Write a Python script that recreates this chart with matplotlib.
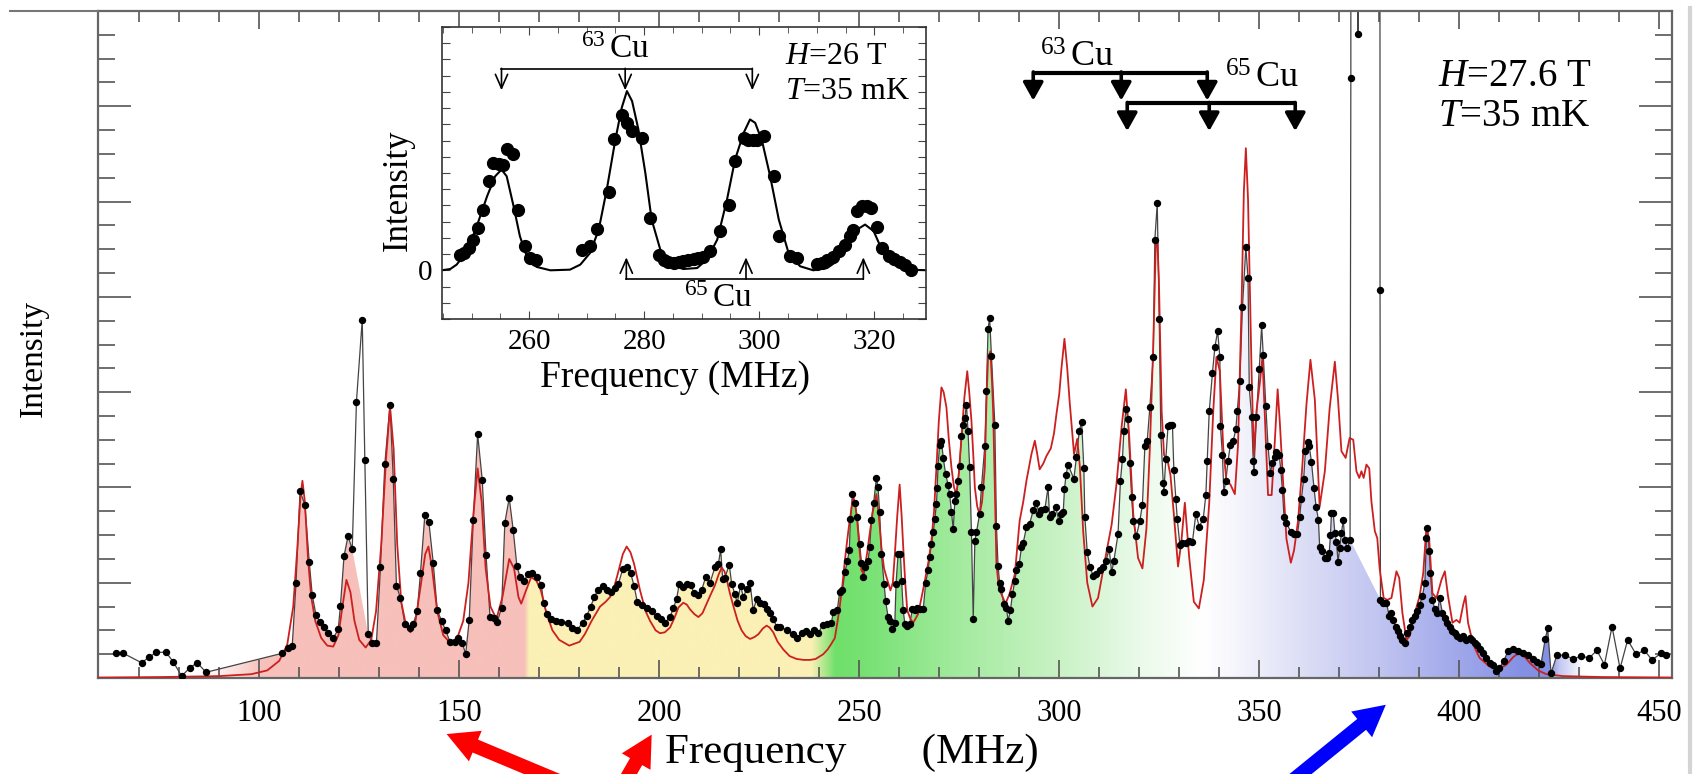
import numpy as np
import matplotlib.pyplot as plt
from matplotlib.patches import Polygon, FancyArrowPatch
from matplotlib.lines import Line2D
from matplotlib.colors import to_rgb

plt.rcParams['font.family'] = ['Liberation Serif', 'DejaVu Serif']
plt.rcParams['mathtext.fontset'] = 'custom'
plt.rcParams['mathtext.rm'] = 'Liberation Serif'
plt.rcParams['mathtext.it'] = 'Liberation Serif:italic'

# measured NMR spectrum, H=27.6 T (frequency MHz, intensity)
spectrum = [
    (64.3, .26), (66.0, .26), (70.6, .16), (72.5, .22), (74.3, .27), (76.7, .27), (78.5, .17),
    (80.6, .02), (82.7, .11), (84.5, .16), (86.7, .06),
    (105.8, .26), (107.25, .31), (108.25, .34), (109.2, 1.0), (110.2, 1.96), (111.4, 1.82),
    (112.5, 1.22), (113.25, .87), (114.2, .66), (115.2, .59), (116.25, .54), (117.25, .47),
    (118.5, .42), (119.75, .51), (120.3, .76), (121.2, 1.28), (122.2, 1.49), (123.25, 1.35),
    (124.3, 2.90), (125.75, 3.76), (126.4, 2.29), (127.25, .46), (128.25, .37), (129.3, .37),
    (130.3, 1.16), (131.4, 2.25), (132.7, 2.87), (133.5, 2.09), (134.3, .97), (135.3, .84),
    (136.4, .57), (137.7, .52), (138.5, .57), (139.5, .70), (140.3, 1.10), (141.4, 1.71),
    (142.4, 1.64), (143.5, 1.21), (144.5, .71), (145.6, .60), (146.6, .50), (147.7, .38),
    (148.9, .38), (149.75, .42), (150.75, .37), (151.6, .25), (152.5, .61), (153.5, 1.66),
    (154.6, 2.56), (155.75, 2.08), (156.7, 1.29), (157.7, .64), (158.7, .63), (159.5, .59),
    (160.6, .74), (161.4, 1.63), (162.5, 1.89), (163.5, 1.55), (164.4, 1.18), (165.2, 1.06),
    (166.2, 1.02), (167.2, 1.09), (168.3, 1.10), (169.5, 1.06), (170.5, .98), (171.1, .79),
    (171.9, .67), (172.9, .62), (174.2, .60), (175.4, .59), (177.1, .58), (178.3, .53),
    (179.4, .50), (180.85, .58), (181.85, .65), (182.85, .75), (183.8, .85), (184.6, .92),
    (185.85, .97), (186.85, .92), (187.9, .90), (188.9, .94), (189.8, .99), (190.85, 1.14),
    (191.85, 1.17), (192.85, 1.10), (193.7, .97), (194.5, .80), (195.6, .77), (196.85, .73),
    (198.1, .70), (199.35, .65), (200.35, .62), (201.4, .58), (202.7, .64), (203.5, .73),
    (204.35, .83), (205.0, .99), (206.0, .95), (206.85, .99), (207.85, .98), (208.7, .89),
    (209.8, .87), (210.6, .92), (211.6, 1.06), (212.7, 1.00), (213.9, 1.16), (214.8, 1.20),
    (215.35, 1.35), (215.85, 1.04), (216.4, 1.05), (217.5, 1.19), (218.1, .99), (218.9, .88),
    (219.5, .79), (220.35, .97), (221.0, .85), (221.85, .93), (222.7, 1.00), (223.5, .71),
    (224.35, .83), (225.2, .79), (226.2, .78), (226.85, .72), (227.7, .68), (228.5, .62),
    (229.35, .54), (230.2, .54), (231.85, .50), (233.5, .46), (234.5, .42), (235.6, .47),
    (236.7, .49), (237.7, .46), (238.7, .50), (239.8, .47), (240.85, .56), (241.85, .57),
    (243.05, .58), (243.5, .69), (244.5, .71), (245.1, .90), (245.8, .92), (246.4, 1.11),
    (247.05, 1.23), (247.5, 1.34), (247.8, 1.67), (248.3, 1.93), (248.9, 1.84), (249.5, 1.69),
    (250.1, 1.41), (250.55, 1.21), (251.0, 1.06), (251.55, 1.16), (252.2, 1.23), (252.6, 1.37),
    (253.05, 1.66), (253.6, 1.84), (254.3, 2.10), (254.7, 2.00), (255.1, 1.74), (255.55, 1.30),
    (256.2, .99), (256.6, .81), (257.2, .64), (257.6, .60), (258.3, .51), (258.9, .58),
    (259.2, .99), (259.7, 1.30), (260.3, 1.30), (260.6, 1.02), (261.0, .71), (261.4, .57),
    (262.0, .55), (262.6, .57), (263.3, .72), (263.9, .71), (264.5, .74), (265.1, .72),
    (266.0, .72), (266.6, 1.00), (267.2, 1.13), (267.6, 1.27), (268.05, 1.41), (268.5, 1.53),
    (268.9, 1.67), (269.3, 1.83), (269.5, 1.99), (269.7, 2.23), (270.1, 2.45), (270.55, 2.49),
    (271.0, 2.31), (271.6, 2.14), (272.2, 2.03), (272.6, 1.93), (273.05, 1.74), (273.5, 1.56),
    (273.9, 1.86), (274.3, 1.93), (274.7, 2.07), (275.1, 2.23), (275.55, 2.54), (276.0, 2.66),
    (276.4, 2.73), (276.8, 2.87), (277.2, 2.59), (277.6, 2.21), (278.05, 1.53), (278.5, .62),
    (278.9, 1.44), (279.3, 1.53), (280.1, 1.72), (280.55, 2.00), (281.4, 2.44), (281.8, 3.01),
    (282.2, 3.66), (282.6, 3.78), (283.05, 3.38), (283.9, 2.66), (284.3, 1.60), (284.7, 1.18),
    (285.1, 1.00), (285.55, .93), (286.1, .78), (286.8, .74), (287.2, .60), (287.8, .71),
    (288.3, .88), (288.9, 1.02), (289.3, 1.13), (290.0, 1.20), (290.55, 1.37), (291.0, 1.42),
    (291.8, 1.58), (292.6, 1.62), (293.5, 1.76), (294.3, 1.84), (295.0, 1.72), (295.55, 1.76),
    (296.4, 1.77), (297.2, 2.00), (297.6, 1.69), (298.3, 1.72), (299.1, 1.80), (299.9, 1.65),
    (300.4, 1.72), (301.0, 1.74), (301.3, 1.98), (301.7, 2.13), (302.2, 2.24), (303.65, 2.09),
    (304.3, 2.32), (305.0, 2.59), (305.6, 2.69), (306.15, 2.20), (306.4, 1.69), (307.0, 1.32),
    (307.65, 1.17), (308.5, 1.07), (309.3, 1.09), (310.15, 1.13), (311.0, 1.17), (311.65, 1.23),
    (312.5, 1.35), (313.1, 1.11), (313.65, 1.23), (314.7, 1.51), (315.3, 2.07), (315.8, 2.30),
    (316.15, 2.59), (316.65, 2.82), (317.2, 2.72), (317.65, 2.26), (318.1, 1.90), (318.5, 1.65),
    (319.3, 1.49), (320.15, 1.65), (320.8, 1.82), (321.4, 2.43), (322.0, 2.49), (322.65, 2.84),
    (323.5, 3.37), (323.9, 4.60), (324.5, 4.98), (325.0, 3.77), (325.4, 2.55), (326.0, 2.05),
    (326.15, 1.95), (326.65, 2.30), (327.2, 2.65), (327.8, 2.66), (328.3, 2.66), (328.65, 2.18),
    (329.15, 1.88), (329.5, 1.67), (330.15, 1.40), (330.8, 1.42), (331.65, 1.42), (332.5, 1.44),
    (333.3, 1.43), (334.15, 1.72), (335.0, 1.59), (336.0, 1.67), (336.65, 1.92), (337.0, 2.28),
    (337.5, 2.80), (338.3, 3.20), (338.9, 3.47), (339.6, 3.64), (340.15, 3.37), (340.3, 2.64),
    (340.8, 2.34), (341.15, 1.95), (341.65, 2.07), (342.2, 2.28), (342.8, 2.45), (343.5, 2.49),
    (344.15, 2.61), (344.5, 2.80), (345.15, 3.12), (345.8, 3.89), (346.65, 4.52), (347.2, 4.20),
    (347.5, 3.05), (348.1, 2.74), (348.5, 2.28), (348.65, 2.16), (349.3, 2.74), (350.0, 3.24),
    (350.6, 3.70), (351.0, 3.39), (351.65, 2.85), (352.2, 2.43), (352.8, 2.15), (353.3, 2.26),
    (353.9, 2.32), (354.3, 2.37), (355.0, 2.34), (355.4, 2.18), (355.8, 1.97), (356.2, 1.69),
    (356.8, 1.63), (357.9, 1.53), (358.7, 1.51), (359.55, 1.51), (360.1, 1.69), (360.55, 1.88),
    (361.1, 2.09), (361.55, 2.38), (362.1, 2.48), (362.5, 2.43), (363.05, 2.27), (363.7, 1.99),
    (364.2, 1.80), (364.8, 1.66), (365.1, 1.38), (365.8, 1.33), (366.4, 1.26), (367.0, 1.26),
    (367.5, 1.31), (367.8, 1.50), (368.05, 1.73), (368.5, 1.73), (368.9, 1.52), (369.3, 1.43),
    (369.7, 1.22), (370.1, 1.36), (370.55, 1.52), (371.0, 1.66), (371.4, 1.45), (372.0, 1.36),
    (372.7, 1.45), (372.9, 6.30), (373.0, 40), (374.7, 6.76), (374.8, 40), (380.0, 40),
    (380.2, 4.07), (380.3, .82), (381.0, .79), (381.8, .79), (382.5, .65), (383.05, .68),
    (383.5, .61), (384.1, .54), (384.7, .49), (385.3, .44), (385.8, .40), (386.4, .37),
    (387.0, .47), (387.6, .54), (388.3, .61), (388.9, .65), (389.5, .70), (390.1, .77),
    (390.8, .86), (391.4, 1.00), (391.8, 1.47), (392.05, 1.57), (392.5, 1.33), (392.8, 1.10),
    (393.3, .82), (393.9, .72), (394.5, .68), (395.1, .84), (395.8, .68), (396.4, .63),
    (397.0, .58), (397.6, .54), (398.3, .49), (398.9, .47), (399.5, .44), (400.1, .42),
    (401.0, .44), (401.8, .40), (402.6, .42), (403.3, .40), (403.9, .37), (404.5, .35),
    (405.1, .30), (406.0, .26), (406.8, .21), (407.6, .16), (408.5, .14), (409.3, .07),
    (410.0, .10), (411.1, .18), (412.2, .28), (413.4, .30), (414.6, .28), (415.9, .26),
    (417.1, .24), (418.4, .20), (419.4, .17), (420.45, .15), (421.5, .41), (422.1, .52),
    (422.95, .05), (424.4, .24), (426.45, .24), (428.5, .20), (430.45, .23), (432.5, .21),
    (434.4, .29), (436.3, .14), (438.2, .54), (440.2, .10), (442.1, .40), (444.2, .25),
    (446.3, .29), (448.2, .19), (450.45, .26), (451.7, .24),
]

# simulated spectrum (red line)
simulation = [
    (60, .005), (75, .01), (90, .02), (98, .04), (102, .08), (105, .18), (107, .35), (108.5, .75),
    (109.5, 1.35), (110.3, 1.9), (110.8, 2.07), (111.4, 1.85), (112.2, 1.25), (113, .85), (114, .6),
    (115.5, .42), (117, .34), (118.5, .33), (119.8, .45), (120.8, .75), (121.8, 1.03), (122.8, .9),
    (123.8, .6), (125, .4), (126.6, .32), (128, .4), (129.2, .7), (130.5, 1.4), (131.7, 2.3),
    (132.7, 2.85), (133.6, 2.4), (134.5, 1.4), (135.5, .8), (136.7, .55), (137.8, .48), (139, .58),
    (140.3, .95), (141.5, 1.3), (142.3, 1.38), (143.2, 1.15), (144.5, .7), (146, .45), (147.7, .37),
    (149.5, .42), (151, .6), (152.3, 1.0), (153.5, 1.7), (154.6, 2.2), (155.6, 1.85), (156.6, 1.15),
    (157.8, .75), (159.3, .62), (160.8, .85), (162.5, 1.25), (163.7, 1.15), (164.8, .85),
    (165.5, .78), (166.7, .92), (168, 1.06), (169.3, 1.02), (170.4, .92), (171.8, .68), (173.3, .50),
    (175, .40), (177.5, .34), (180.1, .38), (181.4, .46), (183.1, .6), (185.2, .75), (186.6, .8),
    (187.7, .85), (188.9, .98), (189.8, 1.12), (190.9, 1.3), (191.85, 1.38), (192.8, 1.32),
    (193.7, 1.2), (195.2, .92), (196.6, .7), (197.7, .6), (199.1, .5), (200.2, .47), (201.4, .48),
    (202.7, .53), (203.8, .63), (204.8, .74), (206.0, .79), (206.9, .77), (207.7, .72), (208.8, .67),
    (209.8, .64), (210.8, .68), (211.85, .78), (212.9, .88), (213.9, .97), (214.8, 1.08),
    (215.6, 1.16), (216.3, 1.12), (216.85, 1.04), (217.6, .9), (218.5, .76), (219.6, .6),
    (220.6, .50), (221.6, .44), (222.7, .41), (223.8, .43), (224.8, .46), (225.9, .52),
    (226.85, .55), (227.6, .53), (228.5, .48), (229.6, .38), (231.0, .30), (232.6, .23),
    (234.35, .20), (236.1, .19), (237.7, .19), (239.1, .2), (241.0, .25), (242.1, .3), (242.9, .35),
    (243.9, .42), (244.6, .6), (245.1, .74), (245.8, .98), (246.4, 1.23), (247.0, 1.45),
    (247.6, 1.65), (248.5, 1.90), (249.0, 1.82), (249.5, 1.65), (250.0, 1.38), (250.55, 1.13),
    (251.0, 1.1), (251.4, 1.16), (252.0, 1.32), (252.6, 1.51), (253.4, 1.75), (254.3, 1.93),
    (254.9, 1.7), (255.55, 1.37), (256.2, 1.15), (256.8, 1.06), (257.8, .92), (258.4, 1.0),
    (258.9, 1.30), (259.5, 1.7), (260.1, 2.03), (260.6, 1.7), (261.0, 1.37), (261.5, 1.0),
    (262.0, .71), (262.8, .62), (263.5, .58), (264.7, .67), (265.6, .85), (266.4, 1.02),
    (267.3, 1.22), (268.05, 1.44), (268.7, 1.75), (269.3, 2.21), (269.9, 2.7), (270.55, 3.05),
    (271.1, 3.0), (271.8, 2.84), (272.4, 2.5), (273.05, 2.21), (273.7, 2.0), (274.3, 1.93),
    (274.9, 2.15), (275.55, 2.52), (276.3, 2.95), (277.0, 3.22), (277.5, 3.0), (278.05, 2.70),
    (278.5, 2.35), (278.9, 2.00), (279.5, 1.8), (280.1, 1.72), (280.7, 1.85), (281.4, 2.21),
    (281.8, 2.9), (282.2, 3.36), (282.8, 3.43), (283.2, 3.1), (283.5, 2.77), (283.9, 2.0),
    (284.3, 1.20), (284.9, .95), (285.55, .88), (286.55, .78), (287.55, .88), (288.9, 1.09),
    (290.1, 1.65), (291.0, 1.85), (291.8, 2.07), (293.05, 2.35), (293.9, 2.49), (294.5, 2.35),
    (295.1, 2.19), (296.0, 2.25), (296.8, 2.33), (297.9, 2.41), (298.7, 2.57), (299.3, 2.77),
    (300.0, 2.98), (300.55, 3.25), (301.3, 3.56), (302.0, 3.25), (302.6, 2.9), (303.7, 2.35),
    (304.5, 2.51), (305.15, 2.22), (306.0, 1.53), (307.0, 1.00), (308.3, .75), (309.7, .84),
    (311.4, 1.23), (313.1, 1.61), (314.3, 2.03), (315.6, 2.64), (316.65, 3.03), (317.5, 2.53),
    (318.5, 1.72), (319.7, 1.26), (320.8, 1.15), (321.8, 1.57), (322.65, 2.41), (323.5, 3.49),
    (324.15, 4.56), (324.5, 4.62), (324.9, 4.2), (325.6, 2.80), (326.2, 2.34), (327.0, 2.30),
    (327.8, 2.13), (328.65, 1.72), (329.7, 1.17), (330.5, 1.42), (331.4, 1.84), (332.5, 1.26),
    (333.65, .80), (334.9, .73), (336.15, 1.03), (337.5, 1.84), (338.5, 2.80), (339.3, 3.37),
    (340.15, 3.22), (341.0, 2.41), (341.8, 2.07), (342.8, 2.03), (343.9, 1.93), (344.7, 2.45),
    (345.6, 3.95), (346.15, 5.10), (346.65, 5.56), (347.2, 5.02), (348.1, 3.18), (348.65, 2.34),
    (349.3, 2.80), (350.15, 3.10), (350.8, 3.37), (351.65, 2.49), (352.2, 1.92), (353.1, 1.92),
    (353.9, 2.49), (354.6, 3.03), (355.15, 2.68), (356.0, 2.03), (356.8, 1.46), (357.9, 1.21),
    (358.7, 1.34), (359.7, 1.65), (360.7, 2.18), (361.8, 2.87), (362.8, 3.34), (363.9, 2.92),
    (365.1, 1.80), (366.4, 2.17), (367.6, 2.83), (368.9, 3.32), (369.7, 2.92), (370.55, 2.38),
    (371.6, 2.31), (372.6, 2.52), (373.5, 2.50), (374.3, 2.17), (375.0, 2.10), (375.55, 2.17),
    (376.1, 2.10), (376.8, 2.24), (377.5, 2.20), (378.05, 1.85), (378.9, 1.54), (379.5, 1.47),
    (380.1, 1.15), (381.1, .84), (382.0, .82), (383.05, .84), (384.3, 1.12), (385.0, 1.05),
    (385.8, .68), (386.8, .40), (387.6, .44), (388.9, .68), (390.1, .86), (391.0, 1.10),
    (391.8, 1.59), (392.5, 1.45), (393.3, .89), (394.3, .84), (395.55, 1.03), (396.4, 1.12),
    (397.2, .86), (398.3, .58), (399.3, .61), (400.1, .58), (401.0, .77), (401.55, .86),
    (402.2, .58), (403.5, .35), (405.1, .21), (407.6, .12), (409.7, .09), (411.8, .14),
    (413.5, .22), (414.8, .26), (416.4, .22), (417.6, .16), (419.7, .08), (421.8, .04),
    (426, .02), (436, .01), (453, .005),
]

# inset: spectrum at H=26 T and its fit
inset_pts = [
    (247.9, .97), (248.6, 1.07), (249.6, 1.38), (250.2, 1.85), (251.2, 2.61), (251.9, 3.70),
    (253, 5.49), (253.7, 6.63), (254.7, 6.58), (255.4, 6.52), (256.1, 7.45), (257.2, 7.14),
    (258, 3.70), (259.3, 1.52), (260.1, .76), (261.2, .62), (269.2, 1.28), (270.6, 1.48),
    (271.8, 2.55), (273.8, 4.81), (274.8, 8.07), (276.1, 9.55), (277, 9.09), (277.9, 8.58),
    (279.6, 8.17), (281, 3.23), (282.5, .97), (283.4, .62), (284.2, .49), (285.1, .45),
    (286, .49), (286.8, .56), (287.7, .62), (288.6, .70), (289.4, .76), (290.3, .82),
    (291.4, 1.17), (293.1, 2.41), (294.7, 4.05), (295.8, 6.73), (297.3, 8.17), (298.1, 8.02),
    (298.9, 8.02), (299.6, 8.02), (300.8, 8.31), (302.5, 5.80), (303.5, 2.10), (305.3, .86),
    (306.6, .76), (310, .41), (310.9, .45), (311.8, .62), (312.9, .82), (313.9, 1.17),
    (314.9, 1.58), (315.8, 2.10), (316.3, 2.51), (317, 3.64), (317.9, 3.95), (318.7, 3.95),
    (319.4, 3.85), (320.5, 2.67), (321.3, 1.38), (322.5, .86), (323.5, .70), (324.5, .49),
    (325.4, .35), (326.3, 0.0),
]
inset_fit = [
    (244.8, 0), (246.3, .08), (247.4, .35), (249.2, 1.17), (250.9, 2.72), (252.7, 4.57),
    (254.1, 5.80), (255.2, 6.21), (256.1, 5.80), (257.3, 3.95), (258.4, 2.10), (259.6, .86),
    (261.3, .21), (263.7, 0), (267.1, .04), (268.9, .35), (270.6, 1.07), (272.1, 2.51),
    (273.5, 4.98), (275, 8.07), (276.1, 10.02), (277, 11.05), (277.9, 10.43), (279, 8.68),
    (280.2, 6.01), (281.3, 3.13), (282.8, 1.28), (284.5, .35), (286.8, .08), (289.2, .14),
    (290.9, .66), (292.7, 1.89), (294.4, 4.36), (295.8, 6.83), (297.3, 8.48), (298.4, 9.30),
    (299.3, 9.09), (300.5, 7.96), (301.9, 5.80), (303.4, 3.13), (305.1, 1.07), (307.1, .25),
    (309.4, 0), (311.8, .14), (313.5, .56), (315.2, 1.48), (317, 2.51), (318.4, 2.82),
    (319.9, 2.41), (321.3, 1.28), (323.3, .35), (325.6, .04), (329.8, 0),
]

# quadrupole satellite markers
cu63_main = [293.5, 315.5, 337.0]
cu65_main = [317.0, 337.5, 359.0]
cu63_inset = [255.2, 276.7, 298.8]
cu65_inset = [276.9, 297.7, 318.1]

# background colour bands under the spectrum (frequency, colour)
band_stops = [(86, '#ffffff'), (93, '#fbe3e0'), (101, '#f7c0ba'), (166.3, '#f7c0ba'),
              (167.4, '#fbf0b5'), (238, '#fbf0b5'), (244, '#6fe06a'), (252, '#78e274'),
              (275, '#a4eb9f'), (300, '#c9f2c5'), (320, '#eafaea'), (336, '#ffffff'),
              (346, '#f3f3fb'), (361, '#dcdef6'), (381, '#bfc3f0'), (401, '#9ea6ea'),
              (416, '#8490e4'), (422.5, '#8490e4'), (425, '#c3c7f1'), (431, '#ffffff')]

sf, si = np.array(spectrum).T
mf, mi = np.array(simulation).T

fig = plt.figure(figsize=(17.02, 7.74), dpi=100)
ax = fig.add_axes([0.0576, 0.124, 0.9248, 0.8618])

# coloured fill under the measured points (spikes skipped)
keep = (sf >= 86) & (sf <= 431) & ~((sf > 124) & (sf < 127)) & ~((sf > 372.8) & (sf < 380.25))
verts = [(sf[keep][0], 0)] + list(zip(sf[keep], si[keep])) + [(sf[keep][-1], 0)]
clip = Polygon(verts, closed=True, facecolor='none', edgecolor='none')
ax.add_patch(clip)
gx = np.linspace(86, 431, 1500)
bf = [b[0] for b in band_stops]
bc = np.array([to_rgb(b[1]) for b in band_stops])
grad = np.stack([np.interp(gx, bf, bc[:, k]) for k in range(3)], axis=-1)[np.newaxis]
im = ax.imshow(grad, extent=[86, 431, 0, 7], aspect='auto', origin='lower',
               interpolation='bilinear', zorder=1)
im.set_clip_path(clip)

ax.plot(sf, si, color='#444444', lw=0.9, zorder=2)
ax.plot(mf, mi, color='#cc2020', lw=1.3, zorder=3)
ax.plot(sf, si, ls='none', marker='o', ms=4.3, color='black', zorder=4)

ax.set_xlim(59.7, 453.2)
ax.set_ylim(0, 7)
ax.set_xticks(range(100, 451, 50))
ax.set_xticks(range(70, 451, 10), minor=True)
ax.set_yticks(range(0, 8))
ax.set_yticks(np.arange(0, 7.01, 0.25), minor=True)
ax.set_yticklabels([])
ax.tick_params(which='both', direction='in', top=True, right=True, color='#555555', width=1.2)
ax.tick_params(axis='x', which='major', length=13, labelsize=22, pad=15)
ax.tick_params(axis='x', which='minor', length=8)
ax.tick_params(axis='y', which='major', length=24)
ax.tick_params(axis='y', which='minor', length=12)
for s in ax.spines.values():
    s.set_color('#666666')
    s.set_linewidth(1.6)

# 63Cu / 65Cu brackets
ax.plot([cu63_main[0], cu63_main[-1]], [6.35, 6.35], color='k', lw=3, solid_capstyle='butt')
ax.plot([cu65_main[0], cu65_main[-1]], [6.03, 6.03], color='k', lw=3, solid_capstyle='butt')
for xs, ytop, ytip in [(cu63_main, 6.36, 6.06), (cu65_main, 6.04, 5.74)]:
    for x in xs:
        ax.annotate('', xy=(x, ytip), xytext=(x, ytop),
                    arrowprops=dict(arrowstyle='-|>,head_length=0.5,head_width=0.28',
                                    color='k', lw=2.6, shrinkA=0, shrinkB=0, mutation_scale=22))
ax.text(295.2, 6.5, r'$^{63}\,$Cu', fontsize=26, va='center')
ax.text(341.4, 6.28, r'$^{65}\,$Cu', fontsize=26, va='center')
ax.text(394.6, 6.31, r'$H$=27.6 T', fontsize=28, va='center')
ax.text(394.6, 5.89, r'$T$=35 mK', fontsize=28, va='center')

fig.text(665 / 1702, 1 - 763 / 774, 'Frequency       (MHz)', ha='left', va='baseline', fontsize=31)
fig.text(33 / 1702, 1 - 358 / 774, 'Intensity', rotation=90, ha='center', va='center', fontsize=24)

# inset
ins = fig.add_axes([0.2595, 0.5879, 0.2846, 0.3772])
ff, fi = np.array(inset_fit).T
pf, pi = np.array(inset_pts).T
ins.plot(ff, fi, color='black', lw=1.5, zorder=2)
ins.plot(pf, pi, ls='none', marker='o', ms=8.5, color='black', zorder=3)
ins.set_xlim(244.8, 329)
ins.set_ylim(-3, 15)
ins.set_xticks([260, 280, 300, 320])
ins.set_xticks(range(245, 330, 5), minor=True)
ins.set_yticks(range(-3, 16))
ins.set_yticklabels(['0' if v == 0 else '' for v in range(-3, 16)])
ins.tick_params(which='both', direction='in', top=True, right=True, color='#444444')
ins.tick_params(which='major', length=6, labelsize=21, pad=7)
ins.tick_params(which='minor', length=4)
for s in ins.spines.values():
    s.set_color('#333333')
    s.set_linewidth(1.2)

ins.plot([cu63_inset[0], cu63_inset[-1]], [12.43, 12.43], color='k', lw=1.2)
ins.plot([cu65_inset[0], cu65_inset[-1]], [-0.53, -0.53], color='k', lw=1.2)
for xs, y0, y1 in [(cu63_inset, 12.45, 11.1), (cu65_inset, -0.55, 0.8)]:
    for x in xs:
        ins.annotate('', xy=(x, y1), xytext=(x, y0),
                     arrowprops=dict(arrowstyle='->,head_length=0.5,head_width=0.22',
                                     color='k', lw=1.2, shrinkA=0, shrinkB=0, mutation_scale=20))
ins.text(275.0, 13.6, r'$^{63}\,$Cu', fontsize=24, ha='center', va='center')
ins.text(292.9, -1.75, r'$^{65}\,$Cu', fontsize=24, ha='center', va='center')
ins.text(304.5, 13.2, r'$H$=26 T', fontsize=23, va='center')
ins.text(304.5, 11.05, r'$T$=35 mK', fontsize=23, va='center')
fig.text(675 / 1702, 1 - 378 / 774, 'Frequency (MHz)', ha='center', va='center', fontsize=27)
fig.text(398 / 1702, 1 - 190 / 774, 'Intensity', rotation=90, ha='center', va='center', fontsize=25)

# frame remnants of the original page
fig.add_artist(Line2D([0.006, 0.0576], [0.9858, 0.9858], color='#777777', lw=1.5))
fig.add_artist(Line2D([0.993, 0.993], [0.0, 0.99], color='#d4d4d4', lw=3))

# pointer arrows below the axis
for tail, tip, col in [((0.3478, -0.027), (0.2609, 0.053), 'red'),
                       ((0.3625, -0.027), (0.3837, 0.054), 'red'),
                       ((0.7490, -0.027), (0.8155, 0.0917), 'blue')]:
    fig.add_artist(FancyArrowPatch(tail, tip, transform=fig.transFigure,
                                   arrowstyle='simple,head_length=0.8,head_width=0.85,tail_width=0.36',
                                   mutation_scale=28, color=col, lw=0, clip_on=False))

fig.savefig('out.png', dpi=100)
